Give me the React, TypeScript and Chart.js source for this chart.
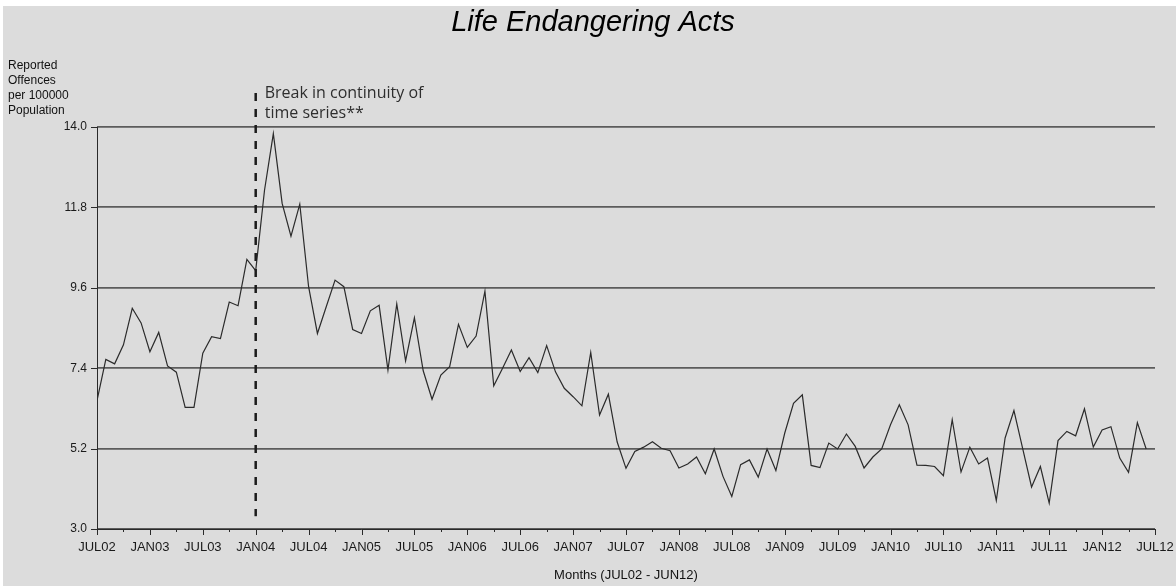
import React, { useEffect, useRef } from "react";
import { Chart, registerables } from "chart.js";

Chart.register(...registerables);

const chartTitle = "Life Endangering Acts";
const yAxisLabel = ["Reported", "Offences", "per 100000", "Population"];
const xAxisTitle = "Months (JUL02 - JUN12)";
const annotationText = ["Break in continuity of", "time series**"];
const breakMonthIndex = 18; // JAN04

const xTickLabels = [
  "JUL02", "JAN03", "JUL03", "JAN04", "JUL04", "JAN05", "JUL05", "JAN06",
  "JUL06", "JAN07", "JUL07", "JAN08", "JUL08", "JAN09", "JUL09", "JAN10",
  "JUL10", "JAN11", "JUL11", "JAN12", "JUL12",
];
const yTicks = [3.0, 5.2, 7.4, 9.6, 11.8, 14.0];

// Monthly values JUL02 .. JUN12 (120 months)
const values = [
  6.51, 7.64, 7.52, 8.04, 9.04, 8.64, 7.85, 8.38, 7.46, 7.29, 6.33, 6.33,
  7.81, 8.26, 8.21, 9.21, 9.11, 10.38, 10.07, 12.27, 13.82, 11.91, 11.01, 11.89,
  9.63, 8.35, 9.08, 9.81, 9.63, 8.46, 8.35, 8.97, 9.12, 7.35, 9.16, 7.6,
  8.78, 7.33, 6.55, 7.21, 7.44, 8.6, 7.97, 8.28, 9.51, 6.92, 7.4, 7.9,
  7.31, 7.69, 7.28, 8.02, 7.3, 6.85, 6.62, 6.37, 7.83, 6.12, 6.69, 5.38,
  4.66, 5.12, 5.24, 5.39, 5.21, 5.14, 4.67, 4.78, 4.97, 4.51, 5.19, 4.44,
  3.89, 4.76, 4.89, 4.42, 5.19, 4.6, 5.62, 6.44, 6.67, 4.74, 4.68, 5.35,
  5.19, 5.6, 5.26, 4.67, 4.97, 5.19, 5.85, 6.4, 5.85, 4.75, 4.74, 4.71,
  4.46, 5.99, 4.56, 5.24, 4.78, 4.94, 3.78, 5.49, 6.24, 5.19, 4.15, 4.71,
  3.71, 5.42, 5.67, 5.55, 6.29, 5.24, 5.71, 5.8, 4.94, 4.55, 5.91, 5.19,
];

const decorPlugin = {
  id: "decor",
  afterDraw(chart: any) {
    const { ctx, chartArea, scales } = chart;
    const x = scales.x;
    const y = scales.y;
    ctx.save();

    // axis lines
    ctx.strokeStyle = "#2a2a2a";
    ctx.lineWidth = 1;
    ctx.beginPath();
    ctx.moveTo(Math.round(chartArea.left) + 0.5, chartArea.top);
    ctx.lineTo(Math.round(chartArea.left) + 0.5, chartArea.bottom);
    ctx.moveTo(chartArea.left, Math.round(chartArea.bottom) + 0.5);
    ctx.lineTo(chartArea.right, Math.round(chartArea.bottom) + 0.5);
    ctx.stroke();

    // x tick marks (major every 6 months, minor every 3)
    ctx.beginPath();
    for (let m = 0; m <= 120; m += 3) {
      const px = Math.round(x.getPixelForValue(m)) + 0.5;
      const len = m % 6 === 0 ? 6 : 3;
      ctx.moveTo(px, chartArea.bottom);
      ctx.lineTo(px, chartArea.bottom + len);
    }
    // y tick marks
    for (const v of yTicks) {
      const py = Math.round(y.getPixelForValue(v)) + 0.5;
      ctx.moveTo(chartArea.left - 6, py);
      ctx.lineTo(chartArea.left, py);
    }
    ctx.stroke();

    // dashed break line
    const bx = x.getPixelForValue(breakMonthIndex);
    ctx.strokeStyle = "#1c1c1c";
    ctx.lineWidth = 2.5;
    ctx.setLineDash([8, 8]);
    ctx.beginPath();
    ctx.moveTo(bx, chartArea.top - 34);
    ctx.lineTo(bx, y.getPixelForValue(3.35));
    ctx.stroke();
    ctx.setLineDash([]);

    // annotation
    ctx.fillStyle = "#2e2e2e";
    ctx.font = '16px "Open Sans"';
    ctx.textAlign = "left";
    ctx.textBaseline = "middle";
    ctx.fillText(annotationText[0], bx + 9, chartArea.top - 34);
    ctx.fillText(annotationText[1], bx + 9, chartArea.top - 14);

    // title
    ctx.fillStyle = "#000";
    ctx.font = 'italic 29px "Liberation Sans"';
    ctx.textAlign = "center";
    ctx.fillText(chartTitle, 590, 17);

    // y axis label block
    ctx.fillStyle = "#111";
    ctx.font = '12px "Liberation Sans"';
    ctx.textAlign = "left";
    yAxisLabel.forEach((t, i) => {
      ctx.fillText(t, 5, 60 + i * 15);
    });

    ctx.restore();
  },
};

export default function App() {
  const canvasRef = useRef<HTMLCanvasElement | null>(null);

  useEffect(() => {
    document.body.style.margin = "0";
    const canvas = canvasRef.current;
    if (!canvas) return;
    const points = values.map((v, i) => ({ x: i, y: v }));
    const chart = new Chart(canvas, {
      type: "line",
      data: {
        datasets: [
          {
            data: points,
            borderColor: "#2b2b2b",
            borderWidth: 1.2,
            pointRadius: 0,
            tension: 0,
            fill: false,
          },
        ],
      },
      options: {
        animation: false,
        responsive: false,
        devicePixelRatio: 1,
        layout: { padding: { top: 121, right: 21, left: 0, bottom: 0 } },
        plugins: {
          legend: { display: false },
          tooltip: { enabled: false },
          title: { display: false },
        },
        scales: {
          x: {
            type: "linear",
            min: 0,
            max: 120,
            afterBuildTicks: (scale: any) => {
              const t = [];
              for (let m = 0; m <= 120; m += 3) t.push({ value: m });
              scale.ticks = t;
            },
            afterFit: (scale: any) => {
              scale.height = 57;
              scale.paddingLeft = 0;
              scale.paddingRight = 0;
            },
            grid: { display: false, drawTicks: false },
            border: { display: false },
            ticks: {
              autoSkip: false,
              maxRotation: 0,
              minRotation: 0,
              padding: 11,
              color: "#1a1a1a",
              font: { family: "Liberation Sans", size: 13 },
              callback: (v: any) => (Number(v) % 6 === 0 ? xTickLabels[Number(v) / 6] : ""),
            },
            title: {
              display: true,
              text: xAxisTitle,
              color: "#111",
              font: { family: "Liberation Sans", size: 13 },
              padding: { top: 0, bottom: 3 },
            },
          },
          y: {
            type: "linear",
            min: 3,
            max: 14,
            afterBuildTicks: (scale: any) => {
              scale.ticks = yTicks.map((v) => ({ value: v }));
            },
            afterFit: (scale: any) => {
              scale.width = 94;
            },
            grid: { display: true, drawTicks: false, color: "#5c5c5c", lineWidth: 1.8 },
            border: { display: false },
            ticks: {
              padding: 10,
              color: "#1a1a1a",
              font: { family: "Liberation Sans", size: 12 },
              callback: (v: any) => Number(v).toFixed(1),
            },
          },
        },
      },
      plugins: [decorPlugin],
    });
    return () => chart.destroy();
  }, []);

  return (
    <div style={{ width: 1176, height: 586, background: "#fff", position: "relative", overflow: "hidden" }}>
      <canvas
        ref={canvasRef}
        width={1173}
        height={580}
        style={{ position: "absolute", left: 3, top: 6, width: 1173, height: 580, background: "#dcdcdc", display: "block" }}
      />
    </div>
  );
}
